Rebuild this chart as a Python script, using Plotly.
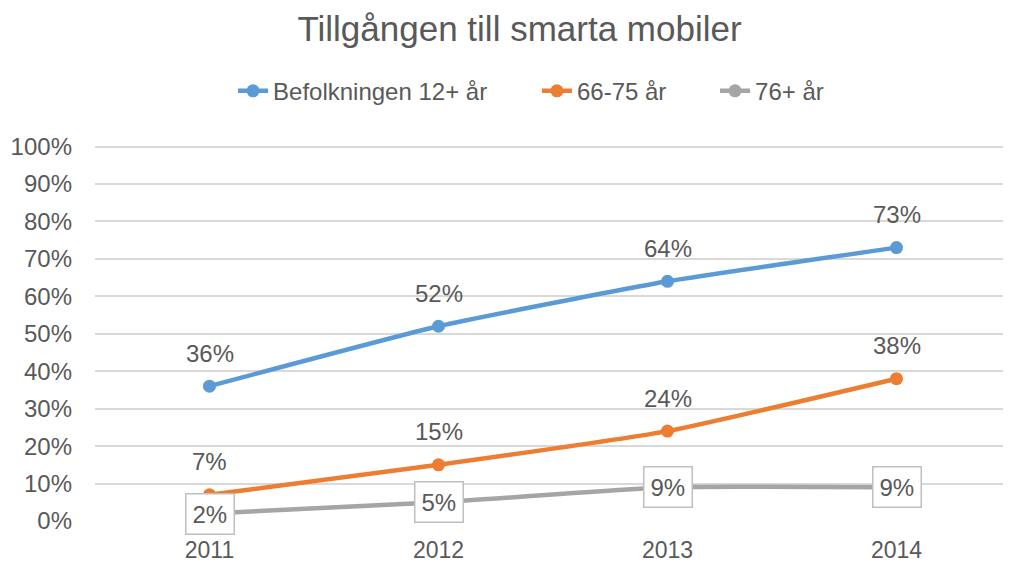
import plotly.graph_objects as go

years = ["2011", "2012", "2013", "2014"]
series_names = ["Befolkningen 12+ år", "66-75 år", "76+ år"]
pop_12 = [36, 52, 64, 73]
age_66_75 = [7, 15, 24, 38]
age_76 = [2, 5, 9, 9]
y_ticks = list(range(0, 101, 10))

colors = ["#5B9BD5", "#ED7D31", "#A5A5A5"]
values = [pop_12, age_66_75, age_76]
legend_ids = ["legend2", "legend3", "legend4"]
legend_x = [0.1507, 0.4825, 0.6769]
FONT = "Liberation Sans, Arial, Helvetica, sans-serif"
TXT = "#595959"
FS = 24

fig = go.Figure()
xs = list(range(len(years)))
for name, vals, col, lg in zip(series_names, values, colors, legend_ids):
    fig.add_trace(go.Scatter(
        x=xs, y=vals, name=name, mode="lines+markers", legend=lg,
        line=dict(color=col, width=4.5, shape="spline", smoothing=0.45),
        marker=dict(color=col, size=13),
    ))

annotations = []
for vals in values[:2]:
    for x, v in zip(xs, vals):
        annotations.append(dict(x=x, y=v, xref="x", yref="y", text=f"{v}%",
                                showarrow=False, yshift=33,
                                font=dict(family=FONT, size=FS, color=TXT)))
for x, v in zip(xs, age_76):
    annotations.append(dict(x=x, y=v, xref="x", yref="y", text=f"{v}%",
                            showarrow=False, bgcolor="white",
                            bordercolor="#BFBFBF", borderwidth=1.5, borderpad=6,
                            font=dict(family=FONT, size=FS, color=TXT)))


def legend_at(x):
    return dict(orientation="h", x=x, xanchor="left", y=1.143, yanchor="middle",
                font=dict(family=FONT, size=FS, color=TXT), bgcolor="rgba(0,0,0,0)")


# page body has an 8px margin, so the figure is sized to fit the window
fig.update_layout(
    width=1003, height=556,
    paper_bgcolor="white", plot_bgcolor="white",
    margin=dict(l=87, r=0, t=137, b=43, autoexpand=False),
    title=dict(text="Tillgången till smarta mobiler", x=0.510, xanchor="center",
               y=0.962, yanchor="middle",
               font=dict(family=FONT, size=35, color=TXT)),
    legend2=legend_at(legend_x[0]),
    legend3=legend_at(legend_x[1]),
    legend4=legend_at(legend_x[2]),
    xaxis=dict(tickmode="array", tickvals=xs, ticktext=years, range=[-0.5, 3.5],
               showgrid=False, zeroline=False, showline=False,
               tickfont=dict(family=FONT, size=23, color=TXT), ticks="",
               ticklabelstandoff=13),
    yaxis=dict(range=[0, 100.4], tickvals=y_ticks, ticktext=[f"{t}%" for t in y_ticks],
               showgrid=True, gridcolor="#D9D9D9", gridwidth=1.5, zeroline=False,
               tickfont=dict(family=FONT, size=FS, color=TXT), ticks="",
               ticklabelstandoff=22),
    annotations=annotations,
)
fig.write_html("out.html")
